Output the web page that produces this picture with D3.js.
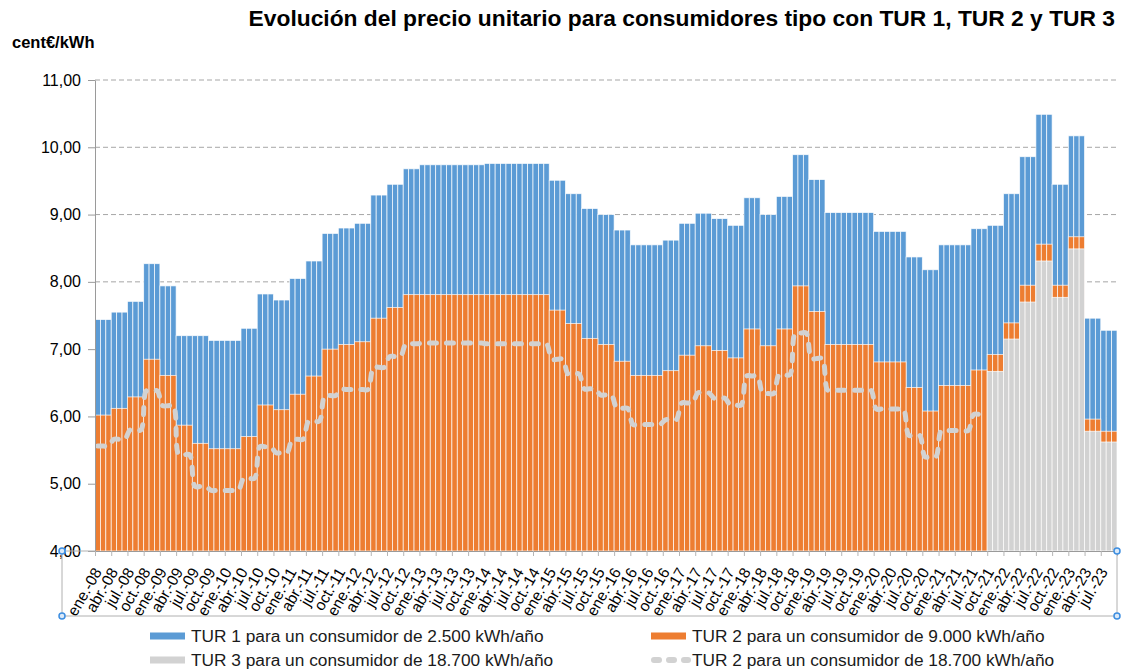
<!DOCTYPE html>
<html>
<head>
<meta charset="utf-8">
<script src="https://cdn.jsdelivr.net/npm/d3@7"></script>
<style>
  body { margin: 0; background: #fff; }
  svg { display: block; font-family: "Liberation Sans", Arial, sans-serif; }
</style>
</head>
<body>
<div id="chart"></div>
<script>
// Width and height
var w = 1132;
var h = 672;

// quarters shown on the axis (each quarter = 3 monthly bars)
var quarterNames = ["ene.", "abr.", "jul.", "oct."];
var yearLabels = ["08","09","10","11","12","13","14","15","16","17","18","19","20","21","22","23"];
var nQuarters = 63;   // ene-08 .. jul-23

// cent€/kWh, one value per quarter
var tur1 = [7.44,7.55,7.71,8.27,7.94,7.20,7.20,7.13,7.13,7.31,7.82,7.73,8.05,8.31,8.72,8.80,
            8.87,9.29,9.45,9.68,9.74,9.74,9.74,9.74,9.76,9.76,9.76,9.76,9.51,9.31,9.09,9.00,
            8.77,8.55,8.55,8.62,8.87,9.02,8.94,8.84,9.25,9.00,9.27,9.89,9.52,9.03,9.03,9.03,
            8.75,8.75,8.37,8.18,8.55,8.55,8.79,8.84,9.31,9.86,10.49,9.45,10.17,7.46,7.28];

var tur2 = [6.02,6.12,6.29,6.85,6.61,5.87,5.60,5.52,5.52,5.70,6.17,6.10,6.33,6.60,7.00,7.07,
            7.11,7.46,7.62,7.81,7.81,7.81,7.81,7.81,7.81,7.81,7.81,7.81,7.58,7.38,7.16,7.07,
            6.82,6.61,6.61,6.68,6.91,7.05,6.98,6.87,7.30,7.05,7.30,7.94,7.56,7.07,7.07,7.07,
            6.81,6.81,6.43,6.08,6.46,6.46,6.69,6.92,7.39,7.95,8.56,7.95,8.67,5.96,5.78];

// TUR 3 (18.700 kWh/año) only from oct-21
var tur3 = [null,null,null,null,null,null,null,null,null,null,null,null,null,null,null,null,
            null,null,null,null,null,null,null,null,null,null,null,null,null,null,null,null,
            null,null,null,null,null,null,null,null,null,null,null,null,null,null,null,null,
            null,null,null,null,null,null,null,6.67,7.15,7.70,8.31,7.77,8.49,5.78,5.62];

// TUR 2 for 18.700 kWh/año (dashed line), until sep-21
var tur2big = [5.56,5.66,5.80,6.38,6.16,5.43,4.96,4.90,4.90,5.08,5.55,5.46,5.66,5.93,6.31,6.40,
               6.40,6.73,6.89,7.08,7.09,7.09,7.09,7.09,7.08,7.08,7.08,7.08,6.85,6.63,6.41,6.32,
               6.12,5.88,5.88,5.95,6.20,6.35,6.27,6.17,6.60,6.34,6.62,7.24,6.86,6.39,6.39,6.39,
               6.11,6.11,5.72,5.40,5.79,5.79,6.03,null,null,null,null,null,null,null,null];

var yTicks = [4, 5, 6, 7, 8, 9, 10, 11];

var legendItems = [
  { label: "TUR 1 para un consumidor de 2.500 kWh/año", color: "#5b9bd5", type: "bar" },
  { label: "TUR 2 para un consumidor de 9.000 kWh/año", color: "#ed7d31", type: "bar" },
  { label: "TUR 3 para un consumidor de 18.700 kWh/año", color: "#d2d2d2", type: "bar" },
  { label: "TUR 2 para un consumidor de 18.700 kWh/año", color: "#d2d2d2", type: "dash" }
];

// expand quarters into months
var months = [];
for (var q = 0; q < nQuarters; q++) {
  for (var m = 0; m < 3; m++) {
    months.push({ i: q * 3 + m, t1: tur1[q], t2: tur2[q], t3: tur3[q], l: tur2big[q] });
  }
}

// plot area
var pLeft = 95, pRight = 1117, pTop = 80, pBottom = 551;

var x = d3.scaleBand()
  .domain(months.map(function(d) { return d.i; }))
  .range([pLeft, pRight])
  .paddingInner(0);

var xLin = d3.scaleLinear().domain([0, months.length]).range([pLeft, pRight]);

var y = d3.scaleLinear().domain([4, 11]).range([pBottom, pTop]);

var fmt = function(v) { return d3.format(".2f")(v).replace(".", ","); };

// Create SVG element
var svg = d3.select("#chart")
  .append("svg")
  .attr("width", w)
  .attr("height", h);

// title
svg.append("text")
  .attr("x", 1115)
  .attr("y", 26)
  .attr("text-anchor", "end")
  .attr("font-size", "22.8px")
  .attr("font-weight", "bold")
  .text("Evolución del precio unitario para consumidores tipo con TUR 1, TUR 2 y TUR 3");

// unit
svg.append("text")
  .attr("x", 12)
  .attr("y", 48)
  .attr("font-size", "16.5px")
  .attr("font-weight", "bold")
  .text("cent€/kWh");

// gridlines
svg.selectAll(".grid")
  .data(yTicks.slice(1))
  .enter()
  .append("line")
  .attr("class", "grid")
  .attr("x1", pLeft)
  .attr("x2", pRight)
  .attr("y1", function(d) { return y(d); })
  .attr("y2", function(d) { return y(d); })
  .attr("stroke", "#a6a6a6")
  .attr("stroke-width", 1)
  .attr("stroke-dasharray", "5,3");

// bars: TUR1 behind, TUR2 over it, TUR3 in front
function drawBars(key, color) {
  svg.append("g")
    .selectAll("rect")
    .data(months.filter(function(d) { return d[key] != null; }))
    .enter()
    .append("rect")
    .attr("x", function(d) { return x(d.i); })
    .attr("width", x.bandwidth())
    .attr("y", function(d) { return y(d[key]); })
    .attr("height", function(d) { return y(4) - y(d[key]); })
    .attr("fill", color)
    .attr("stroke", "#fff")
    .attr("stroke-opacity", 0.85)
    .attr("stroke-width", 0.8);
}
drawBars("t1", "#5b9bd5");
drawBars("t2", "#ed7d31");
drawBars("t3", "#d2d2d2");

// dashed line for TUR 2 at 18.700 kWh
var line = d3.line()
  .defined(function(d) { return d.l != null; })
  .x(function(d) { return x(d.i) + x.bandwidth() / 2; })
  .y(function(d) { return y(d.l); })
  .curve(d3.curveCatmullRom.alpha(0.5));

svg.append("path")
  .datum(months)
  .attr("d", line)
  .attr("fill", "none")
  .attr("stroke", "#d2d2d2")
  .attr("stroke-width", 5)
  .attr("stroke-linecap", "round")
  .attr("stroke-dasharray", "7,10");

// y axis
var yAxis = svg.append("g")
  .attr("transform", "translate(" + pLeft + ",0)")
  .call(d3.axisLeft(y).tickValues(yTicks).tickFormat(fmt).tickSize(7).tickSizeOuter(0).tickPadding(7));
yAxis.select(".domain").attr("stroke", "#9a9a9a");
yAxis.selectAll(".tick line").attr("stroke", "#9a9a9a");
yAxis.selectAll(".tick text")
  .attr("font-size", "16px")
  .attr("font-family", "Liberation Sans, Arial, sans-serif")
  .attr("fill", "#000");

// x axis (ticks every quarter)
var xAxis = svg.append("g")
  .attr("transform", "translate(0," + pBottom + ")")
  .call(d3.axisBottom(xLin).tickValues(d3.range(0, months.length + 1, 3)).tickFormat("").tickSize(5).tickSizeOuter(0));
xAxis.select(".domain").attr("stroke", "#9a9a9a");
xAxis.selectAll(".tick line").attr("stroke", "#b5b5b5");

// category labels
var qLabels = d3.range(nQuarters).map(function(q) {
  return quarterNames[q % 4] + "-" + yearLabels[Math.floor(q / 4)];
});

svg.selectAll(".xlab")
  .data(qLabels)
  .enter()
  .append("text")
  .attr("class", "xlab")
  .attr("font-size", "15.5px")
  .attr("text-anchor", "end")
  .attr("dy", "0.35em")
  .attr("transform", function(d, i) {
    var cx = x(i * 3) + x.bandwidth() / 2;
    return "translate(" + cx + "," + (pBottom + 18) + ") rotate(-60)";
  })
  .text(function(d) { return d; });

// selection frame around the category axis
svg.append("path")
  .attr("d", "M62," + pBottom + "V616H" + pRight + "V" + pBottom)
  .attr("fill", "none")
  .attr("stroke", "#b0b0b0");
svg.append("line")
  .attr("x1", 62).attr("x2", pLeft)
  .attr("y1", pBottom).attr("y2", pBottom)
  .attr("stroke", "#b0b0b0");

svg.selectAll(".handle")
  .data([[62, pBottom], [62, 616], [pRight, pBottom], [pRight, 616]])
  .enter()
  .append("circle")
  .attr("class", "handle")
  .attr("cx", function(d) { return d[0]; })
  .attr("cy", function(d) { return d[1]; })
  .attr("r", 3)
  .attr("fill", "#dbe9f8")
  .attr("stroke", "#3d8ee0")
  .attr("stroke-width", 1.5);

// legend
var legend = svg.selectAll(".legend")
  .data(legendItems)
  .enter()
  .append("g")
  .attr("class", "legend")
  .attr("transform", function(d, i) {
    return "translate(" + (i % 2 === 0 ? 150 : 651) + "," + (i < 2 ? 636 : 660) + ")";
  });

legend.filter(function(d) { return d.type === "bar"; })
  .append("rect")
  .attr("x", 0)
  .attr("y", -3.5)
  .attr("width", 35)
  .attr("height", 7)
  .attr("fill", function(d) { return d.color; });

legend.filter(function(d) { return d.type === "dash"; })
  .append("line")
  .attr("x1", 3)
  .attr("x2", 37)
  .attr("y1", 0)
  .attr("y2", 0)
  .attr("stroke", function(d) { return d.color; })
  .attr("stroke-width", 6)
  .attr("stroke-linecap", "round")
  .attr("stroke-dasharray", "5,10");

legend.append("text")
  .attr("x", 41)
  .attr("y", 0)
  .attr("dy", "0.35em")
  .attr("font-size", "17.3px")
  .attr("fill", "#1a1a1a")
  .text(function(d) { return d.label; });
</script>
</body>
</html>
